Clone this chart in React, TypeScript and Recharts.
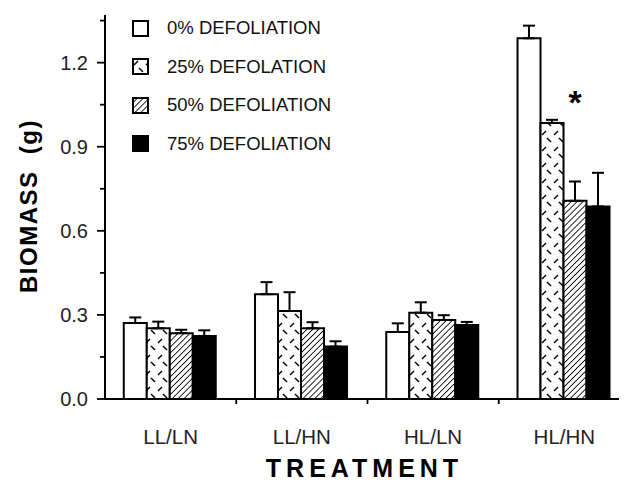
import React from 'react';
import { BarChart, Bar, XAxis, YAxis, ErrorBar, Legend, LabelList } from 'recharts';

const categories = ['LL/LN', 'LL/HN', 'HL/LN', 'HL/HN'];
const def0 = [0.271, 0.374, 0.239, 1.287];
const def25 = [0.252, 0.314, 0.308, 0.985];
const def50 = [0.235, 0.252, 0.282, 0.707];
const def75 = [0.225, 0.187, 0.264, 0.687];
const err0 = [0.02, 0.043, 0.031, 0.045];
const err25 = [0.024, 0.067, 0.037, 0.011];
const err50 = [0.012, 0.022, 0.017, 0.069];
const err75 = [0.02, 0.019, 0.011, 0.12];
const marks = ['', '', '', '*'];
const seriesNames = ['0% DEFOLIATION', '25% DEFOLATION', '50% DEFOLIATION', '75% DEFOLIATION'];
const yTicks = [0, 0.15, 0.3, 0.45, 0.6, 0.75, 0.9, 1.05, 1.2, 1.35];
const majorTicks = [0, 0.3, 0.6, 0.9, 1.2];

const fills = ['#ffffff', 'url(#p25)', 'url(#p50)', '#000000'];

const data = categories.map((c, i) => ({
  cat: c,
  d0: def0[i],
  d25: def25[i],
  d50: def50[i],
  d75: def75[i],
  e0: [0, err0[i]],
  e25: [0, err25[i]],
  e50: [0, err50[i]],
  e75: [0, err75[i]],
  mark: marks[i],
}));

const FONT = '"Liberation Sans", Arial, Helvetica, sans-serif';

const YTick = (props: any) => {
  const { x, y, payload } = props;
  const v = payload.value;
  const isMajor = majorTicks.some((m) => Math.abs(m - v) < 1e-6);
  return (
    <g>
      <line x1={x - (isMajor ? 8 : 5)} x2={x} y1={y} y2={y} stroke="#000" strokeWidth={1.8} />
      {isMajor && (
        <text x={x - 17} y={y} dy="0.36em" textAnchor="end" fontSize={20} fontFamily={FONT} fill="#222">
          {v.toFixed(1)}
        </text>
      )}
    </g>
  );
};

const XTick = (props: any) => {
  const { x, y, payload, index, width, visibleTicksCount } = props;
  let off = payload && typeof payload.offset === 'number' ? payload.offset : 0;
  if (!(off > 0) && typeof width === 'number' && visibleTicksCount) {
    off = width / visibleTicksCount / 2;
  }
  return (
    <g>
      {index < categories.length - 1 && off > 0 && (
        <line x1={x + off} x2={x + off} y1={y} y2={y + 5} stroke="#000" strokeWidth={1.8} />
      )}
      <text x={x} y={y + 45} textAnchor="middle" fontSize={20.5} fontFamily={FONT} fill="#222">
        {payload.value}
      </text>
    </g>
  );
};

const LegendContent = () => (
  <div style={{ fontFamily: FONT }}>
    {seriesNames.map((n, i) => (
      <div key={n} style={{ display: 'flex', alignItems: 'center', height: 38.5 }}>
        <svg width={17} height={17} style={{ marginRight: 18 }}>
          <rect x={1} y={1} width={15} height={15} fill={fills[i]} stroke="#000" strokeWidth={2} />
        </svg>
        <span style={{ fontSize: 18.5, color: '#111', whiteSpace: 'nowrap' }}>{n}</span>
      </div>
    ))}
  </div>
);

const StarLabel = (props: any) => {
  const { x, y, width, value } = props;
  if (!value) return null;
  return (
    <text x={x + width / 2} y={y - 87} textAnchor="middle" fontSize={34} fontWeight="bold" fontFamily={FONT} fill="#000">
      {value}
    </text>
  );
};

const YLabel = (props: any) => {
  const { viewBox } = props;
  const cx = viewBox.x + 28;
  const cy = viewBox.y + viewBox.height / 2 - 1;
  return (
    <text
      x={cx}
      y={cy}
      transform={`rotate(-90, ${cx}, ${cy})`}
      textAnchor="middle"
      dy="0.36em"
      fontSize={24}
      fontWeight="bold"
      letterSpacing={1.5}
      fontFamily={FONT}
      fill="#000"
    >
      {'BIOMASS\u00a0\u00a0(g)'}
    </text>
  );
};

const XLabel = (props: any) => {
  const { viewBox } = props;
  const cx = viewBox.x + viewBox.width / 2 - 3;
  return (
    <text x={cx} y={477} textAnchor="middle" fontSize={25} fontWeight="bold" letterSpacing={5} fontFamily={FONT} fill="#000">
      TREATMENT
    </text>
  );
};

export default function App() {
  return (
    <div style={{ marginLeft: -8, marginTop: -8, width: 627, height: 487, overflow: 'hidden', position: 'relative', background: '#fff' }}>
      <svg width={0} height={0} style={{ position: 'absolute' }}>
        <defs>
          <pattern id="p25" patternUnits="userSpaceOnUse" width={12} height={16}>
            <rect width={12} height={16} fill="#fff" />
            <line x1={2} y1={7} x2={6} y2={3} stroke="#000" strokeWidth={1.5} />
            <line x1={7} y1={10} x2={11} y2={14} stroke="#000" strokeWidth={1.5} />
          </pattern>
          <pattern id="p50" patternUnits="userSpaceOnUse" width={4.2} height={4.2} patternTransform="rotate(45)">
            <rect width={4.2} height={4.2} fill="#fff" />
            <line x1={0} y1={0} x2={0} y2={4.2} stroke="#000" strokeWidth={1.7} />
          </pattern>
        </defs>
      </svg>
      <BarChart
        width={640}
        height={487}
        data={data}
        margin={{ top: 15, right: 10, bottom: 0, left: 0 }}
        barCategoryGap="14.3%"
        barGap={0}
      >
        <XAxis
          dataKey="cat"
          height={88}
          tickSize={0}
          tickMargin={0}
          tick={<XTick />}
          axisLine={{ stroke: '#000', strokeWidth: 2 }}
          tickLine={false}
          interval={0}
          label={<XLabel />}
        />
        <YAxis
          width={105}
          domain={[0, 1.37]}
          ticks={yTicks}
          interval={0}
          tickSize={0}
          tickMargin={0}
          tick={<YTick />}
          tickLine={false}
          axisLine={{ stroke: '#000', strokeWidth: 2 }}
          allowDataOverflow
          label={<YLabel />}
        />
        <Legend
          content={<LegendContent />}
          layout="horizontal"
          verticalAlign="middle"
          align="center"
          wrapperStyle={{ position: 'absolute', left: 132, top: 9, width: 260 }}
        />
        <Bar dataKey="d0" name={seriesNames[0]} fill={fills[0]} stroke="#000" strokeWidth={2} isAnimationActive={false}>
          <ErrorBar dataKey="e0" width={6} stroke="#000" strokeWidth={2} />
        </Bar>
        <Bar dataKey="d25" name={seriesNames[1]} fill={fills[1]} stroke="#000" strokeWidth={2} isAnimationActive={false}>
          <ErrorBar dataKey="e25" width={6} stroke="#000" strokeWidth={2} />
        </Bar>
        <Bar dataKey="d50" name={seriesNames[2]} fill={fills[2]} stroke="#000" strokeWidth={2} isAnimationActive={false}>
          <ErrorBar dataKey="e50" width={6} stroke="#000" strokeWidth={2} />
          <LabelList dataKey="mark" content={<StarLabel />} />
        </Bar>
        <Bar dataKey="d75" name={seriesNames[3]} fill={fills[3]} stroke="#000" strokeWidth={2} isAnimationActive={false}>
          <ErrorBar dataKey="e75" width={6} stroke="#000" strokeWidth={2} />
        </Bar>
      </BarChart>
    </div>
  );
}
